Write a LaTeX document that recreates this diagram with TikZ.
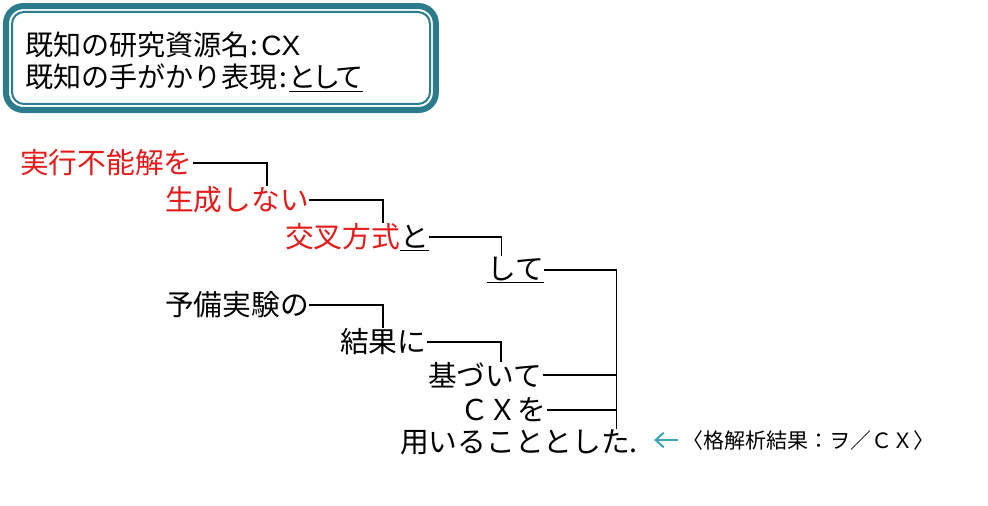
\documentclass[tikz,border=0pt]{standalone}
\usepackage{fontspec}
\setmainfont{Noto Sans CJK JP}
\newfontfamily\propfont[RawFeature=+palt]{Noto Sans CJK JP}
\newfontfamily\latinfont{Liberation Sans}
\usepackage{xcolor}
\usetikzlibrary{arrows.meta, positioning, calc}
\definecolor{kteal}{HTML}{2A7B8C}
\definecolor{karrow}{HTML}{3AA5B5}
\definecolor{kred}{HTML}{E51A1A}
\newcommand{\bunfont}{\fontsize{21.5}{26}\selectfont}
\newcommand{\headfont}{\fontsize{21}{24}\selectfont}
\newcommand{\notefont}{\fontsize{15.75}{19}\selectfont}

\begin{document}
\begin{tikzpicture}[x=1cm, y=1cm,
  bun/.style={anchor=west, inner sep=0pt, font=\bunfont},
  kakari/.style={line width=1.1pt, black}]
\useasboundingbox (0,0) rectangle (26.0,13.29);
% header box
\draw[kteal, line width=4.5pt, rounded corners=13pt] (0.158,10.395) rectangle (11.47,13.13);
\draw[kteal, line width=1.5pt, rounded corners=9pt] (0.316,10.553) rectangle (11.316,12.974);
\node[anchor=west, inner sep=0pt, font=\headfont] (src) at (0.658,12.106) {既知の研究資源名\kern1pt:\kern2pt{\latinfont CX}};
\node[anchor=west, inner sep=0pt, font=\headfont] (cue) at (0.658,11.237) {既知の手がかり表現\kern1pt:\kern2pt\underline{\propfont として}};
% bunsetsu
\node[bun, text=kred] (r1) at (0.526,9.001) {実行不能解を};
\node[bun, text=kred] (r2) at (4.342,8.027) {生成しない};
\node[bun] (r3) at (7.5,7.053) {\textcolor{kred}{交叉方式}\underline{と}};
\node[bun] (r4) at (12.816,6.185) {\underline{して}};
\node[bun] (r5) at (4.342,5.264) {予備実験の};
\node[bun] (r6) at (8.947,4.29) {結果に};
\node[bun] (r7) at (11.263,3.422) {基づいて};
\node[bun] (r8) at (12.105,2.5) {ＣＸを};
\node[bun] (r9) at (10.526,1.66) {用いることとした.};
\node[anchor=west, inner sep=0pt, font=\notefont] (ann) at (17.95,1.71) {〈格解析結果：ヲ／ＣＸ〉};
% dependencies
\draw[kakari] (r1.east) -- ++(1.95,0) coordinate (b1) -- (b1 |- r2.north);
\draw[kakari] (r2.east) -- ++(1.95,0) coordinate (b2) -- (b2 |- r3.north);
\draw[kakari] (r3.east) -- ++(1.9,0) coordinate (b3) -- (b3 |- r4.north);
\draw[kakari] (r4.east) -- ++(1.9,0) coordinate (b4) -- (b4 |- r9.north);
\draw[kakari] (r5.east) -- ++(1.95,0) coordinate (b5) -- (b5 |- r6.north);
\draw[kakari] (r6.east) -- ++(1.95,0) coordinate (b6) -- (b6 |- r7.north);
\draw[kakari] (r7.east) -- (r7.east -| b4);
\draw[kakari] (r8.east) -- (r8.east -| b4);
\draw[karrow, line width=1.5pt, -{Straight Barb[length=6pt, width=11pt]}, shorten <=0.1cm, shorten >=0.42cm]
  (ann.west) -- (ann.west -| r9.east);
\end{tikzpicture}
\end{document}
